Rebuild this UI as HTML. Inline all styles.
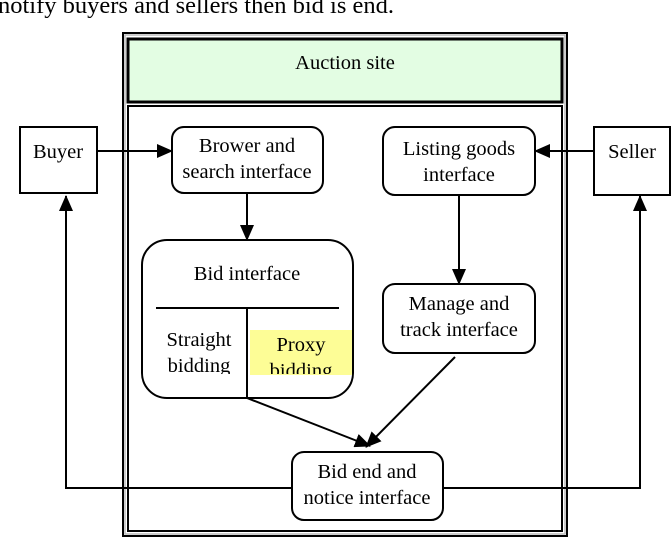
<!DOCTYPE html>
<html><head><style>
html,body{margin:0;padding:0;background:#fff;width:672px;height:538px;overflow:hidden}
svg{display:block}
text{font-family:"Liberation Serif",serif;font-size:20.5px;fill:#000}
</style></head><body>
<svg width="672" height="538" viewBox="0 0 672 538" xmlns="http://www.w3.org/2000/svg">
<defs>
<marker id="b" markerWidth="16" markerHeight="14" refX="15" refY="7" orient="auto" markerUnits="userSpaceOnUse">
<path d="M0,0 L16,7 L0,14 Z" fill="#000"/></marker>
</defs>
<text x="-2" y="13" style="font-size:24.5px">notify buyers and sellers then bid is end.</text>
<rect x="123" y="33" width="444" height="503" fill="#fff" stroke="#000" stroke-width="2"/>
<rect x="125" y="35" width="440" height="499" fill="none" stroke="#bbb" stroke-width="1.5"/>
<rect x="128" y="39" width="434" height="63" fill="#e3fde3" stroke="#000" stroke-width="3"/>
<text x="345" y="69" text-anchor="middle">Auction site</text>
<rect x="128" y="106" width="434" height="425" fill="none" stroke="#000" stroke-width="2"/>
<line x1="97" y1="151" x2="172" y2="151" stroke="#000" stroke-width="2" marker-end="url(#b)"/>
<line x1="594" y1="151" x2="535" y2="151" stroke="#000" stroke-width="2" marker-end="url(#b)"/>
<polyline points="292,488 66,488 66,196" fill="none" stroke="#000" stroke-width="2" marker-end="url(#b)"/>
<polyline points="443,488 640,488 640,196" fill="none" stroke="#000" stroke-width="2" marker-end="url(#b)"/>
<line x1="247" y1="193" x2="247" y2="240" stroke="#000" stroke-width="2" marker-end="url(#b)"/>
<line x1="459" y1="195" x2="459" y2="284" stroke="#000" stroke-width="2" marker-end="url(#b)"/>
<line x1="247" y1="398" x2="370" y2="446" stroke="#000" stroke-width="2" marker-end="url(#b)"/>
<line x1="455" y1="357" x2="366" y2="447" stroke="#000" stroke-width="2" marker-end="url(#b)"/>
<rect x="20" y="127" width="77" height="66" fill="#fff" stroke="#000" stroke-width="2"/>
<text x="58" y="158" text-anchor="middle">Buyer</text>
<rect x="594" y="127" width="76" height="68" fill="#fff" stroke="#000" stroke-width="2"/>
<text x="632" y="158" text-anchor="middle">Seller</text>
<rect x="172" y="127" width="151" height="66" rx="12" fill="#fff" stroke="#000" stroke-width="2"/>
<text x="247" y="152" text-anchor="middle">Brower and</text>
<text x="247" y="178" text-anchor="middle">search interface</text>
<rect x="383" y="127" width="152" height="68" rx="12" fill="#fff" stroke="#000" stroke-width="2"/>
<text x="459" y="155" text-anchor="middle">Listing goods</text>
<text x="459" y="181" text-anchor="middle">interface</text>
<rect x="383" y="284" width="152" height="69" rx="12" fill="#fff" stroke="#000" stroke-width="2"/>
<text x="459" y="310" text-anchor="middle">Manage and</text>
<text x="459" y="336" text-anchor="middle">track interface</text>
<rect x="292" y="452" width="151" height="68" rx="12" fill="#fff" stroke="#000" stroke-width="2"/>
<text x="367" y="478" text-anchor="middle">Bid end and</text>
<text x="367" y="504" text-anchor="middle">notice interface</text>
<rect x="142" y="240" width="211" height="158" rx="25" fill="#fff" stroke="#000" stroke-width="2"/>
<text x="247" y="280" text-anchor="middle">Bid interface</text>
<line x1="156" y1="308" x2="339" y2="308" stroke="#000" stroke-width="2"/>
<rect x="250" y="330" width="102" height="45" fill="#fdfd96"/>
<line x1="247" y1="308" x2="247" y2="398" stroke="#000" stroke-width="2"/>
<svg x="142" y="320" width="211" height="54" overflow="hidden">
<text x="57" y="26" text-anchor="middle">Straight</text>
<text x="57" y="52" text-anchor="middle">bidding</text>
<text x="159" y="31" text-anchor="middle">Proxy</text>
<text x="159" y="57" text-anchor="middle">bidding</text>
</svg>
</svg>
</body></html>
